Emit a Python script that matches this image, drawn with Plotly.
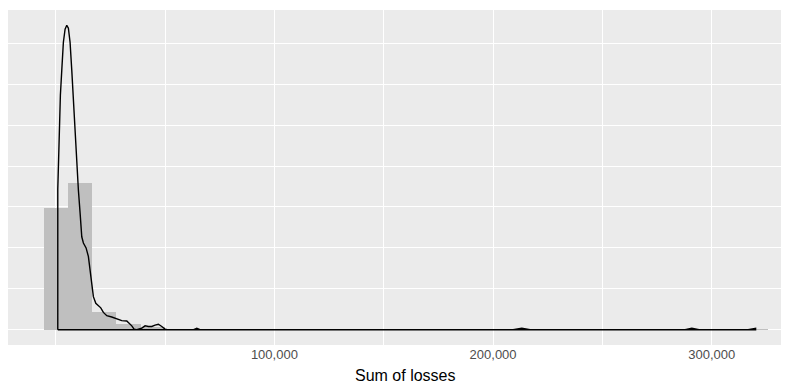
import plotly.graph_objects as go

# Histogram: 30 bins of equal width (counts)
bin_start = -5300
bin_width = 11030
bin_counts = [205, 246, 30, 9, 5, 0, 1, 0, 0, 0,
              0, 0, 0, 0, 0, 0, 0, 0, 0, 1,
              0, 0, 0, 0, 0, 0, 1, 0, 0, 1]

# Kernel density estimate (density x 1e-5)
dens_x = [960, 1330, 1690, 2150, 2790, 3520, 4300, 5080, 5810, 6580,
          7360, 8090, 8870, 9650, 10380, 11160, 11930, 12670, 13900, 14950,
          15730, 16510, 17240, 18340, 19520, 20620, 21810, 23370, 25650, 27940,
          30220, 32510, 33700, 34800, 35850, 37080, 39370, 40880, 42390, 43940,
          45450, 46960, 48510, 50020, 51070, 62830, 64520, 66260, 209150, 213120,
          216920, 287790, 290850, 294190, 316600, 318430, 320030]
dens_y = [4.30, 5.18, 6.25, 7.16, 7.93, 8.78, 9.18, 9.30, 9.21, 8.78,
          7.93, 7.01, 5.95, 4.88, 4.27, 3.57, 2.84, 2.65, 2.50, 2.24,
          1.83, 1.43, 1.01, 0.81, 0.73, 0.67, 0.53, 0.43, 0.39, 0.33,
          0.28, 0.27, 0.20, 0.12, 0.02, 0.00, 0.05, 0.12, 0.10, 0.10,
          0.14, 0.17, 0.10, 0.02, 0.00, 0.00, 0.05, 0.00, 0.00, 0.05,
          0.00, 0.00, 0.05, 0.00, 0.00, 0.03, 0.046]

x_ticks = [100000, 200000, 300000]
x_tick_labels = ["100,000", "200,000", "300,000"]
x_minor = [0, 50000, 150000, 250000]
y_major = [0, 2.5, 5, 7.5]
y_minor = [1.25, 3.75, 6.25, 8.75]

n_total = sum(bin_counts)
bin_centers = [bin_start + bin_width * (i + 0.5) for i in range(len(bin_counts))]
bin_density = [c / (n_total * bin_width) * 1e5 for c in bin_counts]

# closed outline of the density polygon (as ggplot draws it)
poly_x = [dens_x[0]] + dens_x + [dens_x[-1], dens_x[0]]
poly_y = [0] + dens_y + [0, 0]

fig = go.Figure()
fig.add_trace(go.Bar(x=bin_centers, y=bin_density, width=bin_width,
                     marker=dict(color="#BFBFBF", line=dict(width=0)),
                     hoverinfo="skip"))
fig.add_trace(go.Scatter(x=poly_x, y=poly_y, mode="lines",
                         line=dict(color="black", width=1.4),
                         hoverinfo="skip"))

font = "Liberation Sans, Arial, Helvetica, sans-serif"
fig.update_layout(
    width=781, height=375,
    margin=dict(l=0, r=0, t=2, b=38),
    paper_bgcolor="white", plot_bgcolor="#EBEBEB",
    showlegend=False, bargap=0,
    font=dict(family=font),
    xaxis=dict(range=[-21800, 335300], tickmode="array", tickvals=x_ticks,
               ticktext=x_tick_labels, showgrid=True, gridcolor="white",
               gridwidth=1.4, zeroline=False, showline=False,
               ticks="", automargin=False,
               tickfont=dict(size=13, color="#4D4D4D", family=font),
               minor=dict(tickmode="array", tickvals=x_minor, showgrid=True,
                          gridcolor="white", gridwidth=0.7)),
    yaxis=dict(range=[-0.465, 9.765], tickmode="array", tickvals=y_major,
               showticklabels=False, showgrid=True, gridcolor="white",
               gridwidth=1.4, zeroline=False, showline=False, automargin=False,
               minor=dict(tickmode="array", tickvals=y_minor, showgrid=True,
                          gridcolor="white", gridwidth=0.7)),
    annotations=[dict(text="Sum of losses", xref="paper", yref="paper",
                      x=0.508, y=-0.092, xanchor="center", yanchor="middle",
                      showarrow=False, font=dict(size=16, color="black", family=font))],
)
fig.write_html("out.html")
